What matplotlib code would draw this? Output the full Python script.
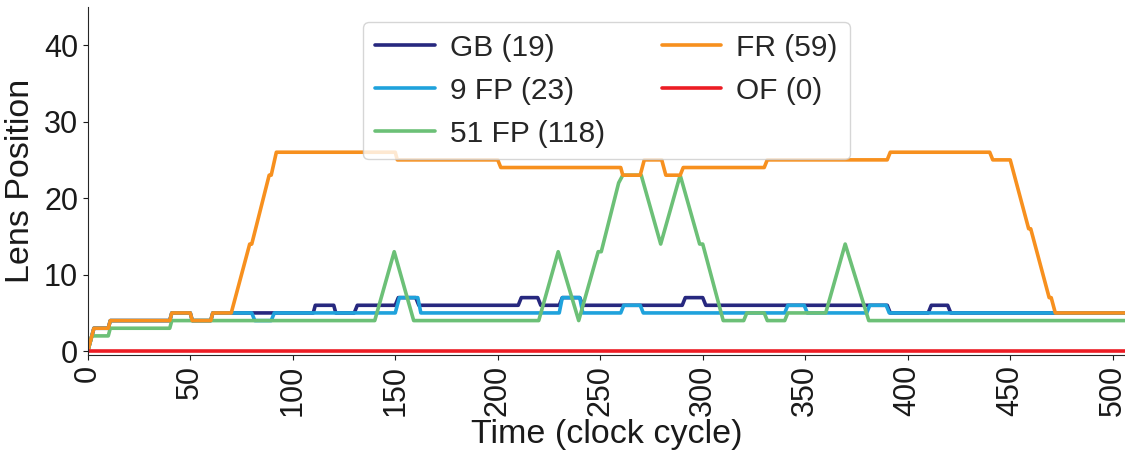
import matplotlib
matplotlib.use("Agg")
import matplotlib.pyplot as plt
import seaborn as sns

# breakpoints of each lens trace (clock cycle, lens position)
gb_x = [0, 3, 10, 11, 40, 41, 50, 51, 60, 61, 110, 111, 120, 121, 130, 131.5, 150, 151.5, 160, 161.5,
        210, 211.5, 219.5, 221, 230, 231.5, 240, 241.5, 290, 291.5, 300, 301.5, 390, 391.5, 410, 411.5,
        419.5, 421, 506]
gb_y = [0, 3, 3, 4, 4, 5, 5, 4, 4, 5, 5, 6, 6, 5, 5, 6, 6, 7, 7, 6,
        6, 7, 7, 6, 6, 7, 7, 6, 6, 7, 7, 6, 6, 5, 5, 6,
        6, 5, 5]

fp9_x = [0, 3, 10, 11, 40, 41, 50, 51, 60, 61, 80, 81.5, 89.5, 91, 150, 152, 161, 162.5, 230, 231.5,
         240, 241.5, 260, 261.5, 269.5, 271, 340, 341.5, 349.5, 351, 380, 381.5, 389.5, 391, 506]
fp9_y = [0, 3, 3, 4, 4, 5, 5, 4, 4, 5, 5, 4, 4, 5, 5, 7, 7, 5, 5, 7,
         7, 5, 5, 6, 6, 5, 5, 6, 6, 5, 5, 6, 6, 5, 5]

fp51_x = [0, 2, 10, 11, 40, 41, 140, 149.5, 159, 220, 229.5, 239.5, 249, 250.5, 259, 261, 270, 279.5,
          289, 298.5, 300, 310, 320, 321.5, 330, 331.5, 340, 341.5, 360, 369.5, 381, 506]
fp51_y = [0, 2, 2, 3, 3, 4, 4, 13, 4, 4, 13, 4, 13, 13, 22, 23, 23, 14,
          23, 14, 14, 4, 4, 5, 5, 4, 4, 5, 5, 14, 4, 4]

fr_x = [0, 3, 10, 11, 40, 41, 50, 51, 60, 61, 70, 79, 80, 88.5, 89.5, 92, 150, 151, 200, 201.5,
        260, 261, 269.5, 271.5, 280, 282, 289, 290.5, 330, 331.5, 390, 391.5, 440, 441.5, 450, 459,
        460, 469, 470, 472, 506]
fr_y = [0, 3, 3, 4, 4, 5, 5, 4, 4, 5, 5, 14, 14, 23, 23, 26, 26, 25, 25, 24,
        24, 23, 23, 25, 25, 23, 23, 24, 24, 25, 25, 26, 26, 25, 25, 16,
        16, 7, 7, 5, 5]

of_x = [0, 506]
of_y = [0, 0]

labels = ["GB (19)", "9 FP (23)", "51 FP (118)", "FR (59)", "OF (0)"]
colors = ["#27287f", "#1fa2dc", "#6cc077", "#f7901e", "#ec1c24"]

sns.set_style("ticks")
plt.rcParams['font.family'] = ['Liberation Sans', 'DejaVu Sans']

fig = plt.figure(figsize=(11.25, 4.54), dpi=100)
ax = fig.add_axes([0.078, 0.218, 0.922, 0.767])

series = [(gb_x, gb_y), (fp9_x, fp9_y), (fp51_x, fp51_y), (fr_x, fr_y), (of_x, of_y)]
for (xs, ys), lab, col in zip(series, labels, colors):
    ax.plot(xs, ys, color=col, linewidth=2.6, label=lab)

ax.set_xlim(0, 506)
ax.set_ylim(-0.5, 45)
ax.set_xticks(range(0, 501, 50))
ax.set_yticks([0, 10, 20, 30, 40])
ax.tick_params(axis='both', labelsize=22, colors='#1a1a1a')
ax.tick_params(axis='x', labelrotation=90)
ax.set_xlabel("Time (clock cycle)", fontsize=24.5, labelpad=2, color='#1a1a1a')
ax.set_ylabel("Lens Position", fontsize=24.5, labelpad=6, color='#1a1a1a')
sns.despine(ax=ax)

ax.legend(loc='upper center', ncol=2, fontsize=21.5, handlelength=2.0,
          handletextpad=0.5, columnspacing=1.9)

fig.savefig("out.png", dpi=100)
